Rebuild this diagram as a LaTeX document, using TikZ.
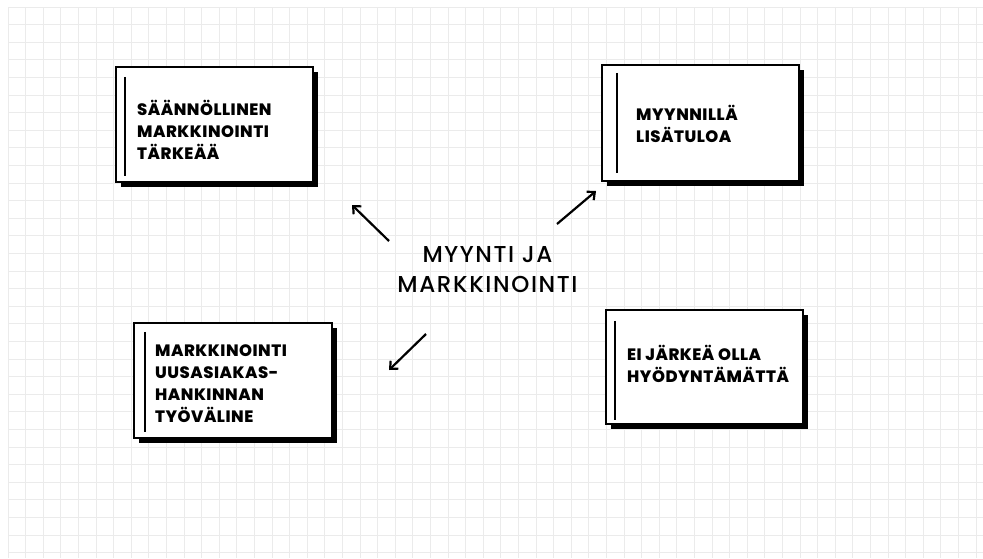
\documentclass[tikz,border=0pt]{standalone}
\usepackage{fontspec}
\setmainfont{Poppins}
\newfontfamily\cardfont{Poppins ExtraBold}[LetterSpace=3]
\newfontfamily\hubfont{Poppins Medium}[LetterSpace=7]
\usetikzlibrary{arrows.meta,shadows}
\begin{document}
\begin{tikzpicture}[x=1pt,y=-1pt,
  gridline/.style={draw=black!8,line width=0.9pt},
  card/.style={draw=black,line width=2.4pt,fill=white,rectangle,inner sep=0pt,
    drop shadow={shadow xshift=5pt,shadow yshift=-5pt,fill=black,opacity=1}},
  bar/.style={line width=2.4pt,draw=black},
  cardtext/.style={anchor=west,align=left,inner sep=0pt,
    font=\cardfont\fontsize{16.5}{22}\selectfont},
  hub/.style={align=center,inner sep=0pt,font=\hubfont\fontsize{23}{30}\selectfont},
  pointer/.style={line width=2.2pt,-{Straight Barb[length=6pt,width=11pt,line width=2.2pt]}}
]
\useasboundingbox (0,0) rectangle (983,558);
\fill[white] (0,0) rectangle (983,558);
% squared paper
\foreach \i in {0,...,55} {
  \draw[gridline] ({8+17.6*\i},7) -- ({8+17.6*\i},558);
}
\foreach \j in {0,...,31} {
  \draw[gridline] (8,{7+17.6*\j}) -- (983,{7+17.6*\j});
}

% cards
\node[card,minimum width=197pt,minimum height=115pt] (c1) at (214.5,124.5) {};
\node[card,minimum width=197pt,minimum height=116pt] (c2) at (700.5,123) {};
\node[card,minimum width=198pt,minimum height=115pt] (c3) at (233,380.5) {};
\node[card,minimum width=197pt,minimum height=114pt] (c4) at (704.5,367) {};

% accent bars inside the cards
\draw[bar] ([xshift=10pt,yshift=-11pt]c1.north west) -- ([xshift=10pt,yshift=7pt]c1.south west);
\draw[bar] ([xshift=16pt,yshift=-9pt]c2.north west) -- ([xshift=16pt,yshift=9pt]c2.south west);
\draw[bar] ([xshift=12pt,yshift=-10pt]c3.north west) -- ([xshift=12pt,yshift=7pt]c3.south west);
\draw[bar] ([xshift=10pt,yshift=-12pt]c4.north west) -- ([xshift=10pt,yshift=5pt]c4.south west);

% card texts
\node[cardtext] (t1) at (137,130) {SÄÄNNÖLLINEN\\MARKKINOINTI\\TÄRKEÄÄ};
\node[cardtext] (t2) at (636,123.5) {MYYNNILLÄ\\LISÄTULOA};
\node[cardtext] (t3) at (155,384) {MARKKINOINTI\\UUSASIAKAS-\\HANKINNAN\\TYÖVÄLINE};
\node[cardtext] (t4) at (627,364) {EI JÄRKEÄ OLLA\\HYÖDYNTÄMÄTTÄ};

% central topic
\node[hub] (hub) at (487.5,270) {MYYNTI JA\\MARKKINOINTI};

% arrows from the topic towards the cards
\coordinate (a1s) at (389,241);
\coordinate (a1e) at (352,205);
\coordinate (a2s) at (557,224);
\coordinate (a2e) at (596,191);
\coordinate (a3s) at (426,334);
\coordinate (a3e) at (389,370);
\draw[pointer] (a1s) -- (a1e);
\draw[pointer] (a2s) -- (a2e);
\draw[pointer] (a3s) -- (a3e);
\end{tikzpicture}
\end{document}
